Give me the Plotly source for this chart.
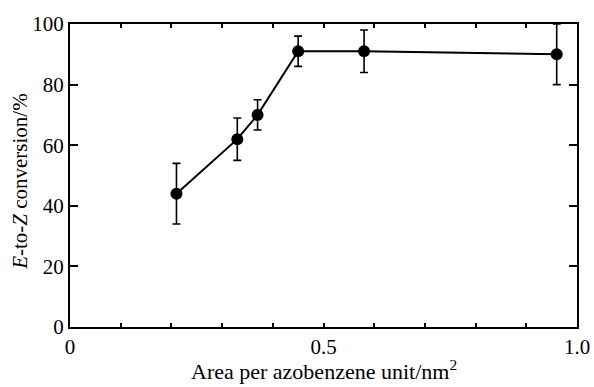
import plotly.graph_objects as go

area = [0.21, 0.33, 0.37, 0.45, 0.58, 0.96]
conversion = [44, 62, 70, 91, 91, 90]
error = [10, 7, 5, 5, 7, 10]

x_tickvals = [0, 0.1, 0.2, 0.3, 0.4, 0.5, 0.6, 0.7, 0.8, 0.9, 1.0]
x_ticktext = ["0", "", "", "", "", "0.5", "", "", "", "", "1.0"]
y_tickvals = [0, 20, 40, 60, 80, 100]

x_title = "Area per azobenzene unit/nm<sup>2</sup>"
y_title = "<i>E</i>-to-<i>Z</i> conversion/%"

font_family = "Liberation Serif, Times New Roman, serif"

fig = go.Figure()
fig.add_trace(go.Scatter(
    x=area, y=conversion,
    mode="lines+markers",
    line=dict(color="black", width=2),
    marker=dict(color="black", size=12),
    error_y=dict(type="data", array=error, visible=True,
                 color="black", thickness=1.6, width=4),
    showlegend=False,
))

fig.update_layout(
    width=594, height=387,
    margin=dict(l=70, r=17, t=24, b=60),
    paper_bgcolor="white", plot_bgcolor="white",
    font=dict(family=font_family, size=21, color="black"),
)
fig.update_xaxes(
    range=[0, 1.0],
    tickvals=x_tickvals, ticktext=x_ticktext,
    ticks="inside", ticklen=4, tickwidth=1.5, tickcolor="black",
    showline=True, linecolor="black", linewidth=2, mirror="ticks",
    showgrid=False, zeroline=False, automargin=False,
    tickfont=dict(size=21),
)
fig.update_yaxes(
    range=[0, 100],
    tickvals=y_tickvals,
    ticks="inside", ticklen=8, tickwidth=1.5, tickcolor="black",
    showline=True, linecolor="black", linewidth=2, mirror="ticks",
    showgrid=False, zeroline=False, automargin=False,
    tickfont=dict(size=21),
)
fig.add_annotation(text=x_title, xref="paper", yref="paper", x=0.5, y=-0.142,
                   showarrow=False, xanchor="center", yanchor="middle",
                   font=dict(size=22))
fig.add_annotation(text=y_title, xref="paper", yref="paper", x=-0.0986, y=0.479,
                   showarrow=False, xanchor="center", yanchor="middle",
                   textangle=-90, font=dict(size=21))

fig.write_html("out.html",
               config={"displayModeBar": False},
               post_script="document.body.style.margin='0';document.body.style.padding='0';document.body.style.overflow='hidden';")
